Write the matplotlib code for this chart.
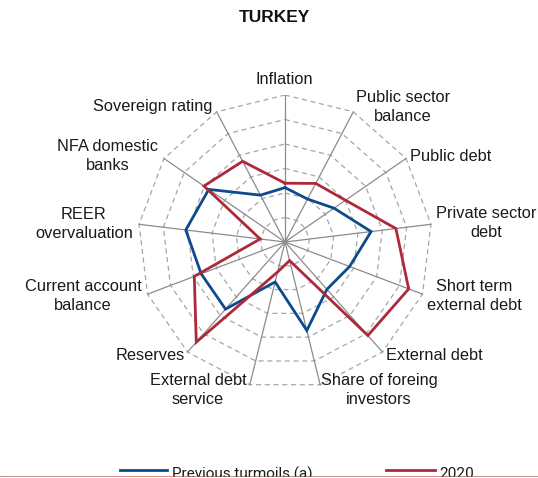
import numpy as np
import matplotlib
matplotlib.use("Agg")
from matplotlib import pyplot as plt

plt.rcParams["font.family"] = ["Liberation Sans", "DejaVu Sans"]

# axes labels, clockwise starting at the top
labels = ["Inflation", "Public sector\nbalance", "Public debt", "Private sector\ndebt",
          "Short term\nexternal debt", "External debt", "Share of foreing\ninvestors",
          "External debt\nservice", "Reserves", "Current account\nbalance",
          "REER\novervaluation", "NFA domestic\nbanks", "Sovereign rating"]

# values as share of the outer ring
previous = [0.37, 0.33, 0.405, 0.59, 0.47, 0.43, 0.62, 0.28, 0.61, 0.61, 0.68, 0.63, 0.36]
y2020 = [0.40, 0.45, 0.50, 0.76, 0.90, 0.85, 0.13, 0.21, 0.91, 0.66, 0.17, 0.67, 0.62]

n_rings = 6

blue = "#0d4a8c"
red = "#ad2839"

W, H = 538, 478
cx, cy, R = 285, 242, 147

fig = plt.figure(figsize=(W / 100, H / 100), dpi=100)
ax = fig.add_axes([(cx - R) / W, (H - cy - R) / H, 2 * R / W, 2 * R / H])
ax.set_xlim(-1, 1)
ax.set_ylim(-1, 1)
ax.axis("off")

n = len(labels)
theta = np.pi / 2 - np.arange(n) * 2 * np.pi / n
ux, uy = np.cos(theta), np.sin(theta)

# grid polygons
for k in range(1, n_rings + 1):
    r = k / n_rings
    ax.plot(np.append(ux, ux[0]) * r, np.append(uy, uy[0]) * r,
            color="#a6a6a6", lw=0.9, ls=(0, (4, 3)), zorder=1)

# spokes
for i in range(n):
    ax.plot([0, ux[i]], [0, uy[i]], color="#8c8c8c", lw=0.9, zorder=2)

# series
for vals, col in [(previous, blue), (y2020, red)]:
    v = np.array(vals)
    ax.plot(np.append(ux * v, ux[0] * v[0]), np.append(uy * v, uy[0] * v[0]),
            color=col, lw=2, zorder=3, solid_joinstyle="miter")

# axis labels (pixel positions from the top-left)
label_pos = [(284.5, 80), (403, 107), (451, 156), (486, 223), (474.5, 296), (434, 355),
             (379, 390), (198, 390), (150, 355), (83, 296), (84, 224), (107.5, 156),
             (153, 107)]
for lab, (px, py) in zip(labels, label_pos):
    fig.text(px / W, 1 - py / H, lab, ha="center", va="center", fontsize=11.8,
             color="#1a1a1a", linespacing=1.32)

fig.text(274 / W, 1 - 18 / H, "TURKEY", ha="center", va="center", fontsize=12.5,
         fontweight="bold", color="#111111")

# legend at the bottom (cut by the frame line)
ly = 1 - 469.5 / H
fig.add_artist(plt.Line2D([120 / W, 167 / W], [ly, ly], color=blue, lw=2))
fig.add_artist(plt.Line2D([386 / W, 435 / W], [ly, ly], color=red, lw=2))
fig.text(172 / W, 1 - 474 / H, "Previous turmoils (a)", ha="left", va="center",
         fontsize=11, color="#1a1a1a", family=["Roboto", "DejaVu Sans"])
fig.text(439 / W, 1 - 474 / H, "2020", ha="left", va="center",
         fontsize=11, color="#1a1a1a", family=["Roboto", "DejaVu Sans"])

fig.add_artist(plt.Line2D([0, 1], [1 - 476.5 / H, 1 - 476.5 / H], color="#b85c4a", lw=1.2))
fig.patches.append(plt.Rectangle((0, 0), 1, 1 - 477.2 / H, transform=fig.transFigure,
                                 color="white", zorder=5))

fig.savefig("out.png", dpi=100)
